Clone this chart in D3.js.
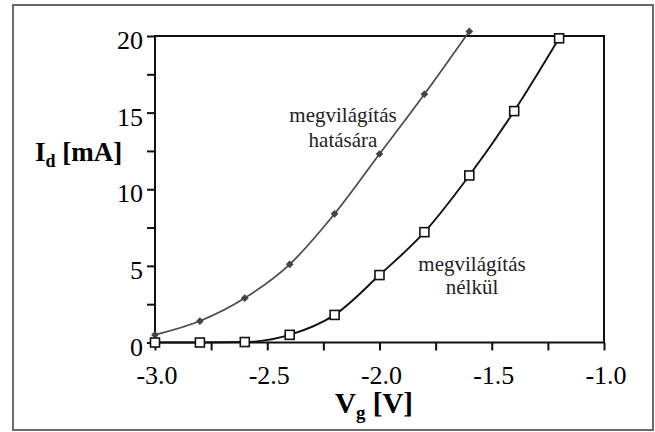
<!DOCTYPE html>
<html>
<head>
<meta charset="utf-8">
<script src="https://cdn.jsdelivr.net/npm/d3@7"></script>
</head>
<body style="margin:0">
<svg id="s" width="655" height="432"></svg>
<script>
// gate voltage (V) and drain current (mA)
const vg = [-3.0, -2.8, -2.6, -2.4, -2.2, -2.0, -1.8, -1.6, -1.4, -1.2];
const idLit = [0.5, 1.4, 2.9, 5.1, 8.4, 12.3, 16.2, 20.3];
const idDark = [0.0, 0.0, 0.03, 0.5, 1.8, 4.4, 7.2, 10.9, 15.1, 19.85];
const xTicks = [-3.0, -2.75, -2.5, -2.25, -2.0, -1.75, -1.5, -1.25, -1.0];
const xLabels = [-3.0, -2.5, -2.0, -1.5, -1.0];
const yTicks = [0, 2.5, 5, 7.5, 10, 12.5, 15, 17.5, 20];
const yLabels = [0, 5, 10, 15, 20];

const svg = d3.select("#s");
const fontStyle = "font-family: 'Times New Roman'";
const plot = { left: 155, right: 604, top: 36, bottom: 342.5 };

const x = d3.scaleLinear([-3, -1], [plot.left, plot.right]);
const y = d3.scaleLinear([0, 20], [plot.bottom, plot.top]);

// outer frame
svg.append("rect")
    .attr("x", 13).attr("y", 5)
    .attr("width", 640).attr("height", 425)
    .attr("fill", "none")
    .attr("stroke", "#6a6a6a")
    .attr("stroke-width", 2);

// axes: ticks only
const xAxis = svg.append("g")
    .attr("transform", `translate(0,${plot.bottom})`)
    .call(d3.axisBottom(x).tickValues(xTicks).tickSize(8).tickFormat(""));
const yAxis = svg.append("g")
    .attr("transform", `translate(${plot.left},0)`)
    .call(d3.axisLeft(y).tickValues(yTicks).tickSize(8).tickFormat(""));
for (const g of [xAxis, yAxis]) {
    g.attr("font-family", null).attr("font-size", null);
    g.select(".domain").remove();
    g.selectAll("line").attr("stroke", "#111").attr("stroke-width", 2);
    g.selectAll("text").remove();
}

// box around the plot
svg.append("rect")
    .attr("x", plot.left).attr("y", plot.top)
    .attr("width", plot.right - plot.left)
    .attr("height", plot.bottom - plot.top)
    .attr("fill", "none")
    .attr("stroke", "#111")
    .attr("stroke-width", 2);

// tick labels
svg.selectAll("text.xl").data(xLabels).join("text")
    .attr("class", "xl")
    .attr("style", fontStyle)
    .attr("font-size", 26)
    .attr("text-anchor", "middle")
    .attr("x", d => x(d) + 2)
    .attr("y", plot.bottom + 41)
    .text(d => d.toFixed(1));
svg.selectAll("text.yl").data(yLabels).join("text")
    .attr("class", "yl")
    .attr("style", fontStyle)
    .attr("font-size", 26)
    .attr("text-anchor", "end")
    .attr("x", 143)
    .attr("y", d => y(d) + 13)
    .text(d => d);

// axis titles
const xt = svg.append("text")
    .attr("style", fontStyle)
    .attr("font-weight", "bold").attr("font-size", 29)
    .attr("text-anchor", "middle")
    .attr("x", 374).attr("y", 413);
xt.append("tspan").text("V");
xt.append("tspan").attr("font-size", 19).attr("dy", 6).text("g");
xt.append("tspan").attr("dy", -6).text(" [V]");

const yt = svg.append("text")
    .attr("style", fontStyle)
    .attr("font-weight", "bold").attr("font-size", 27)
    .attr("x", 35).attr("y", 161);
yt.append("tspan").text("I");
yt.append("tspan").attr("font-size", 18).attr("dy", 6).text("d");
yt.append("tspan").attr("dy", -6).text(" [mA]");

// curves
const line = d3.line()
    .x(d => x(d[0]))
    .y(d => y(d[1]))
    .curve(d3.curveMonotoneX);

const lit = idLit.map((v, i) => [vg[i], v]);
const dark = idDark.map((v, i) => [vg[i], v]);

svg.append("path")
    .datum(lit)
    .attr("fill", "none")
    .attr("stroke", "#4a4a4a")
    .attr("stroke-width", 1.7)
    .attr("d", line);

svg.append("path")
    .datum(dark)
    .attr("fill", "none")
    .attr("stroke", "#111")
    .attr("stroke-width", 1.9)
    .attr("d", line);

// markers
svg.append("g")
    .selectAll("path").data(lit).join("path")
    .attr("transform", d => `translate(${x(d[0])},${y(d[1])}) rotate(45)`)
    .attr("d", d3.symbol(d3.symbolSquare, 30))
    .attr("fill", "#444");

svg.append("g")
    .selectAll("rect").data(dark).join("rect")
    .attr("x", d => x(d[0]) - 4.5)
    .attr("y", d => y(d[1]) - 4.5)
    .attr("width", 9).attr("height", 9)
    .attr("fill", "#fff")
    .attr("stroke", "#111")
    .attr("stroke-width", 1.6);

// curve labels
const labels = [
    { lines: ["megvilágítás", "hatására"], x: 343, y: 122, step: 25 },
    { lines: ["megvilágítás", "nélkül"], x: 472, y: 271, step: 23 }
];
for (const l of labels) {
    svg.selectAll(null).data(l.lines).join("text")
        .attr("style", fontStyle)
        .attr("font-size", 21)
        .attr("fill", "#222")
        .attr("text-anchor", "middle")
        .attr("x", l.x)
        .attr("y", (d, i) => l.y + i * l.step)
        .text(d => d);
}
</script>
</body>
</html>
